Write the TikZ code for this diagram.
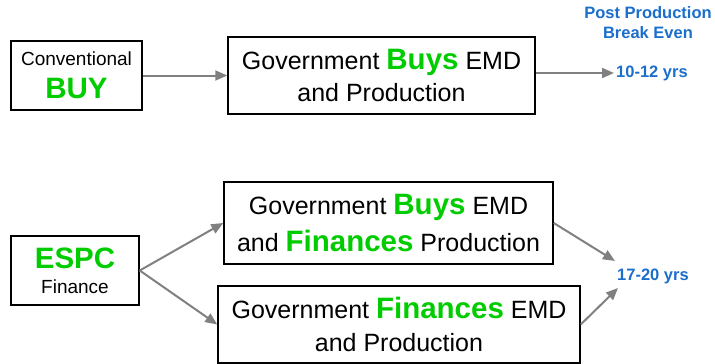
\documentclass[tikz,border=0pt]{standalone}
\usepackage{fontspec}
\setmainfont{Liberation Sans}
\usetikzlibrary{arrows.meta}
\definecolor{grn}{RGB}{0,204,0}
\definecolor{blu}{RGB}{26,110,204}
\definecolor{arr}{RGB}{128,128,128}
\newcommand{\gw}[1]{{\fontsize{29.5}{29}\selectfont\bfseries\color{grn}#1}}
\tikzset{
  box/.style={draw=black, line width=1.5pt, inner sep=0pt, align=center},
  conn/.style={draw=arr, line width=2pt, -{Triangle[length=12pt,width=10pt]}, shorten >=0pt},
  bluetxt/.style={text=blu, font=\fontsize{16.5}{20}\selectfont\bfseries, inner sep=2pt, align=center}
}
\begin{document}
\begin{tikzpicture}[x=1pt,y=-1pt]
\useasboundingbox (0,0) rectangle (715,364);
\node[box, minimum width=131pt, minimum height=69pt, font=\fontsize{19}{33}\selectfont] (b1) at (76.5,75.5) {Conventional\\\gw{BUY}};
\node[box, minimum width=307pt, minimum height=77pt, font=\fontsize{25}{32}\selectfont] (b2) at (381.5,75.5) {Government \gw{Buys} EMD\\and Production};
\node[box, minimum width=128pt, minimum height=69pt, font=\fontsize{19}{25}\selectfont] (b3) at (75,270.5) {\gw{ESPC}\\Finance};
\node[box, minimum width=329pt, minimum height=82pt, font=\fontsize{25}{37}\selectfont] (b4) at (388.5,223) {Government \gw{Buys} EMD\\and \gw{Finances} Production};
\node[box, minimum width=362pt, minimum height=77pt, font=\fontsize{25}{33}\selectfont] (b5) at (399,324.5) {Government \gw{Finances} EMD\\and Production};
\node[bluetxt] (pp) at (648,23) {Post Production\\Break Even};
\node[bluetxt, anchor=west] (t1) at (614,73) {10-12 yrs};
\node[bluetxt] (t2) at (653,276) {17-20 yrs};
\coordinate (e1) at (615,261);
\coordinate (e2) at (618,288);
\draw[conn] (b1.east) -- (b2.west);
\draw[conn] (b2.east |- t1.west) -- (t1.west);
\draw[conn] (b3.east) -- (b4.west);
\draw[conn] (b3.east) -- (b5.west);
\draw[conn] (b4.east) -- (e1);
\draw[conn] (b5.east) -- (e2);
\end{tikzpicture}
\end{document}
